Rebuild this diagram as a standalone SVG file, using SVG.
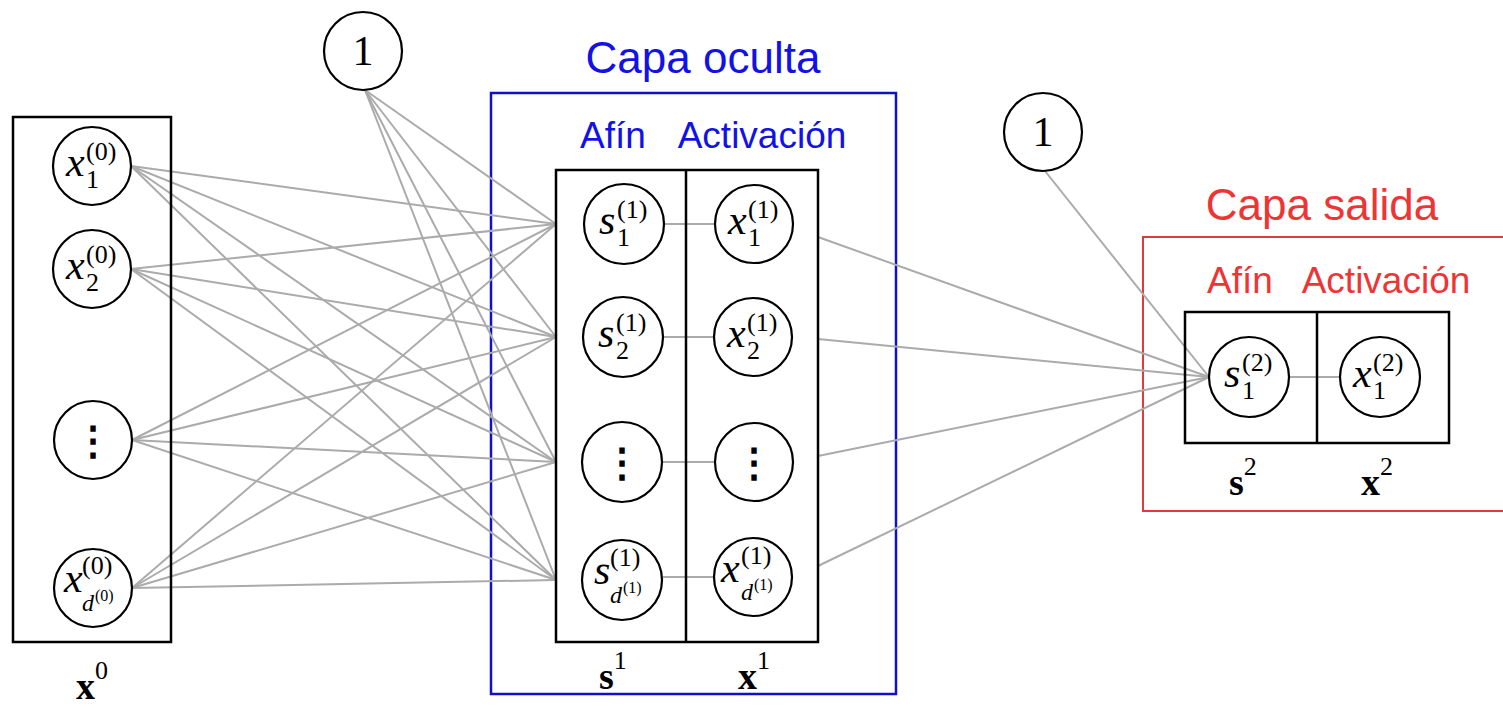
<svg xmlns="http://www.w3.org/2000/svg" width="1503" height="708" viewBox="0 0 1503 708">
<style>
.bg{fill:#fff}
.box{fill:none;stroke:#000;stroke-width:2.5}
.node{fill:#fff;stroke:#000;stroke-width:2.2}
.conn line{stroke:#ababab;stroke-width:2}
.blue{fill:none;stroke:#1010c8;stroke-width:2.5}
.red{fill:none;stroke:#e23a3a;stroke-width:2}
.tb{font-family:"Liberation Sans",Arial,sans-serif;fill:#1212e6;text-anchor:middle}
.tr{font-family:"Liberation Sans",Arial,sans-serif;fill:#ee3535;text-anchor:middle}
.m{font-family:"Liberation Serif","Times New Roman",serif;fill:#000}
.mi{font-style:italic;font-size:42px}
.sup{font-size:26px;font-style:normal}
.sub{font-size:26px;font-style:normal}
.sd{font-size:24px;font-style:italic}
.ss{font-size:16px;font-style:normal}
.bold{font-weight:bold;font-size:38px}
.bsup{font-size:26px;font-weight:normal}
.dots{font-family:"DejaVu Serif",serif;font-size:40px;font-weight:bold;text-anchor:middle}
.one{font-family:"Liberation Serif","Times New Roman",serif;font-size:42px;text-anchor:middle}
</style>
<rect class="bg" x="0" y="0" width="1503" height="708"/>

<g id="hidden-layer">
  <rect class="blue" x="491" y="93" width="405" height="601"/>
  <text class="tb" x="703" y="73" font-size="44">Capa oculta</text>
  <text class="tb" x="613" y="148" font-size="37">Afín</text>
  <text class="tb" x="762" y="148" font-size="37">Activación</text>
</g>
<g id="output-layer">
  <rect class="red" x="1143" y="237" width="370" height="274"/>
  <text class="tr" x="1322" y="220" font-size="44">Capa salida</text>
  <text class="tr" x="1240" y="293" font-size="37">Afín</text>
  <text class="tr" x="1386" y="293" font-size="37">Activación</text>
</g>

<g id="connectors" class="conn">
  <line x1="131" y1="166" x2="556" y2="224"/>
  <line x1="131" y1="166" x2="556" y2="337"/>
  <line x1="131" y1="166" x2="556" y2="462"/>
  <line x1="131" y1="166" x2="556" y2="580"/>
  <line x1="131" y1="269" x2="556" y2="224"/>
  <line x1="131" y1="269" x2="556" y2="337"/>
  <line x1="131" y1="269" x2="556" y2="462"/>
  <line x1="131" y1="269" x2="556" y2="580"/>
  <line x1="132" y1="440" x2="556" y2="224"/>
  <line x1="132" y1="440" x2="556" y2="337"/>
  <line x1="132" y1="440" x2="556" y2="462"/>
  <line x1="132" y1="440" x2="556" y2="580"/>
  <line x1="132" y1="588" x2="556" y2="224"/>
  <line x1="132" y1="588" x2="556" y2="337"/>
  <line x1="132" y1="588" x2="556" y2="462"/>
  <line x1="132" y1="588" x2="556" y2="580"/>
  <line x1="365" y1="90" x2="556" y2="224"/>
  <line x1="365" y1="90" x2="556" y2="337"/>
  <line x1="365" y1="90" x2="556" y2="462"/>
  <line x1="365" y1="90" x2="556" y2="580"/>
  <line x1="663" y1="224" x2="715" y2="224"/>
  <line x1="663" y1="337" x2="715" y2="337"/>
  <line x1="663" y1="462" x2="715" y2="462"/>
  <line x1="663" y1="577" x2="715" y2="577"/>
  <line x1="818" y1="237" x2="1209" y2="377"/>
  <line x1="818" y1="339" x2="1209" y2="377"/>
  <line x1="818" y1="456" x2="1209" y2="377"/>
  <line x1="818" y1="566" x2="1209" y2="377"/>
  <line x1="1045" y1="171" x2="1209" y2="377"/>
  <line x1="1289" y1="377" x2="1341" y2="377"/>
</g>

<g id="input-layer">
  <rect class="box" x="13" y="117" width="158" height="525"/>
  <text class="m bold" x="76" y="699">x<tspan class="bsup" dy="-20">0</tspan></text>
</g>
<g id="hidden-inner">
  <rect class="box" x="556" y="170" width="262" height="472"/>
  <line x1="686" y1="170" x2="686" y2="642" stroke="#000" stroke-width="2.5"/>
  <text class="m bold" x="599" y="689">s<tspan class="bsup" dy="-20">1</tspan></text>
  <text class="m bold" x="738" y="689">x<tspan class="bsup" dy="-20">1</tspan></text>
</g>
<g id="output-inner">
  <rect class="box" x="1185" y="312" width="264" height="131"/>
  <line x1="1317" y1="312" x2="1317" y2="443" stroke="#000" stroke-width="2.5"/>
  <text class="m bold" x="1229" y="495">s<tspan class="bsup" dy="-20">2</tspan></text>
  <text class="m bold" x="1361" y="495">x<tspan class="bsup" dy="-20">2</tspan></text>
</g>

<g id="bias-1">
  <circle class="node" cx="363" cy="51" r="39"/>
  <text class="one" x="363" y="65">1</text>
</g>
<g id="bias-2">
  <circle class="node" cx="1043" cy="132" r="39"/>
  <text class="one" x="1043" y="146">1</text>
</g>

<g id="x0-1">
  <circle class="node" cx="92" cy="166" r="39"/>
  <text class="m mi" x="66" y="176">x</text>
  <text class="m sup" x="86" y="160">(0)</text>
  <text class="m sub" x="86" y="188">1</text>
</g>
<g id="x0-2">
  <circle class="node" cx="92" cy="269" r="39"/>
  <text class="m mi" x="66" y="279">x</text>
  <text class="m sup" x="86" y="263">(0)</text>
  <text class="m sub" x="86" y="291">2</text>
</g>
<g id="x0-dots">
  <circle class="node" cx="93" cy="440" r="39"/>
  <text class="dots" x="93" y="454">⋮</text>
</g>
<g id="x0-d">
  <circle class="node" cx="93" cy="588" r="39"/>
  <text class="m mi" x="64" y="592">x</text>
  <text class="m sup" x="82" y="574">(0)</text>
  <text class="m sd" x="82" y="611">d</text>
  <text class="m ss" x="95" y="601">(0)</text>
</g>

<g id="s1-1">
  <circle class="node" cx="624" cy="224" r="40"/>
  <text class="m mi" x="599" y="234">s</text>
  <text class="m sup" x="617" y="218">(1)</text>
  <text class="m sub" x="617" y="246">1</text>
</g>
<g id="s1-2">
  <circle class="node" cx="623" cy="337" r="40"/>
  <text class="m mi" x="598" y="347">s</text>
  <text class="m sup" x="616" y="331">(1)</text>
  <text class="m sub" x="616" y="359">2</text>
</g>
<g id="s1-dots">
  <circle class="node" cx="622" cy="462" r="40"/>
  <text class="dots" x="622" y="476">⋮</text>
</g>
<g id="s1-d">
  <circle class="node" cx="622" cy="580" r="40"/>
  <text class="m mi" x="594" y="584">s</text>
  <text class="m sup" x="610" y="566">(1)</text>
  <text class="m sd" x="610" y="603">d</text>
  <text class="m ss" x="623" y="593">(1)</text>
</g>

<g id="x1-1">
  <circle class="node" cx="754" cy="224" r="39"/>
  <text class="m mi" x="728" y="234">x</text>
  <text class="m sup" x="748" y="218">(1)</text>
  <text class="m sub" x="748" y="246">1</text>
</g>
<g id="x1-2">
  <circle class="node" cx="753" cy="337" r="39"/>
  <text class="m mi" x="727" y="347">x</text>
  <text class="m sup" x="747" y="331">(1)</text>
  <text class="m sub" x="747" y="359">2</text>
</g>
<g id="x1-dots">
  <circle class="node" cx="754" cy="462" r="39"/>
  <text class="dots" x="754" y="476">⋮</text>
</g>
<g id="x1-d">
  <circle class="node" cx="753" cy="577" r="39"/>
  <text class="m mi" x="721" y="582">x</text>
  <text class="m sup" x="741" y="564">(1)</text>
  <text class="m sd" x="741" y="600">d</text>
  <text class="m ss" x="754" y="590">(1)</text>
</g>

<g id="s2-1">
  <circle class="node" cx="1249" cy="377" r="40"/>
  <text class="m mi" x="1224" y="387">s</text>
  <text class="m sup" x="1242" y="371">(2)</text>
  <text class="m sub" x="1242" y="399">1</text>
</g>
<g id="x2-1">
  <circle class="node" cx="1380" cy="377" r="40"/>
  <text class="m mi" x="1353" y="387">x</text>
  <text class="m sup" x="1373" y="371">(2)</text>
  <text class="m sub" x="1373" y="399">1</text>
</g>
</svg>
